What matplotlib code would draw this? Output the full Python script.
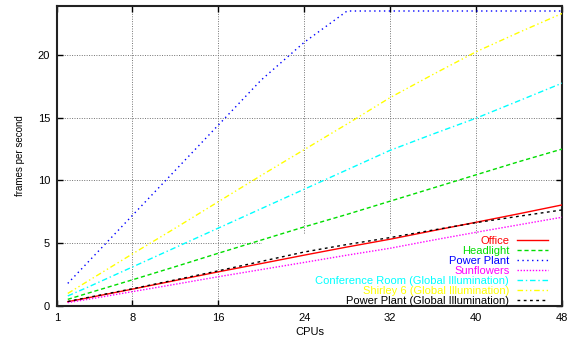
import matplotlib
matplotlib.use("Agg")
import matplotlib.pyplot as plt
from matplotlib.patches import Rectangle

plt.rcParams['font.family'] = ['Liberation Sans', 'DejaVu Sans']

# ---- data ----
cpus = [2, 4, 8, 12, 16, 20, 24, 28, 32, 36, 40, 44, 48]

office      = [0.34, 0.67, 1.34, 2.03, 2.72, 3.38, 4.05, 4.70, 5.32, 6.00, 6.67, 7.35, 8.05]
headlight   = [0.53, 1.05, 2.08, 3.13, 4.20, 5.25, 6.30, 7.30, 8.35, 9.40, 10.45, 11.50, 12.50]
power_plant = [1.80, 3.60, 7.20, 10.80, 14.40, 18.00, 21.00, 23.50, 23.50, 23.50, 23.50, 23.50, 23.50]
sunflowers  = [0.27, 0.55, 1.14, 1.73, 2.33, 2.90, 3.47, 4.05, 4.60, 5.25, 5.87, 6.47, 7.07]
conference  = [0.80, 1.55, 3.10, 4.65, 6.20, 7.75, 9.30, 10.85, 12.40, 13.70, 14.96, 16.35, 17.75]
shirley6    = [1.00, 2.05, 4.14, 6.20, 8.30, 10.40, 12.45, 14.50, 16.60, 18.45, 20.25, 21.80, 23.30]
pp_gi       = [0.36, 0.70, 1.37, 2.08, 2.80, 3.55, 4.30, 4.90, 5.45, 6.05, 6.64, 7.15, 7.65]

labels = ["Office", "Headlight", "Power Plant", "Sunflowers",
          "Conference Room (Global Illumination)",
          "Shirley 6 (Global Illumination)",
          "Power Plant (Global Illumination)"]
colors = ["#ff0000", "#00dd00", "#0000ff", "#ff00ff", "#00ffff", "#ffff00", "#000000"]
styles = ["-", (0, (3, 2)), (0, (1, 2.5)), (0, (1, 1.2)),
          (0, (4, 2, 1, 2)), (0, (4, 2, 1, 2, 1, 2)), (0, (2, 2.5))]
series = [office, headlight, power_plant, sunflowers, conference, shirley6, pp_gi]

xticks = [1, 8, 16, 24, 32, 40, 48]
yticks = [0, 5, 10, 15, 20]

fig = plt.figure(figsize=(5.72, 3.38), dpi=100)
ax = fig.add_axes([0.0997, 0.0947, 0.8828, 0.8876])

for ys, lab, c, ls in zip(series, labels, colors, styles):
    ax.plot(cpus, ys, color=c, linestyle=ls, lw=1.0, label=lab, zorder=3)

ax.set_xlim(1, 48)
ax.set_ylim(0, 23.9)
ax.set_xticks(xticks)
ax.set_yticks(yticks)
ax.tick_params(direction='in', top=True, right=True, length=4, width=1,
               labelsize=8, pad=5)
ax.grid(True, color='0.45', linestyle=(0, (1, 1.5)), lw=0.7)
# gnuplot leaves the grid out under the key
ax.add_patch(Rectangle((0.406, 0), 0.594, 0.237, transform=ax.transAxes,
                       facecolor='white', edgecolor='none', zorder=1.8))
for s in ax.spines.values():
    s.set_linewidth(1.5)
    s.set_color('#222222')

ax.set_xlabel("CPUs", fontsize=8, labelpad=3)
ax.set_ylabel("frames per second", fontsize=7, labelpad=9)

leg = ax.legend(loc='lower right', bbox_to_anchor=(0.973, 0.0), frameon=False,
                fontsize=8, markerfirst=False, handlelength=2.85,
                handletextpad=0.67, labelspacing=0.0, borderpad=0,
                borderaxespad=0)
for t, c in zip(leg.get_texts(), colors):
    t.set_color(c)

fig.savefig("out.png", dpi=100)
